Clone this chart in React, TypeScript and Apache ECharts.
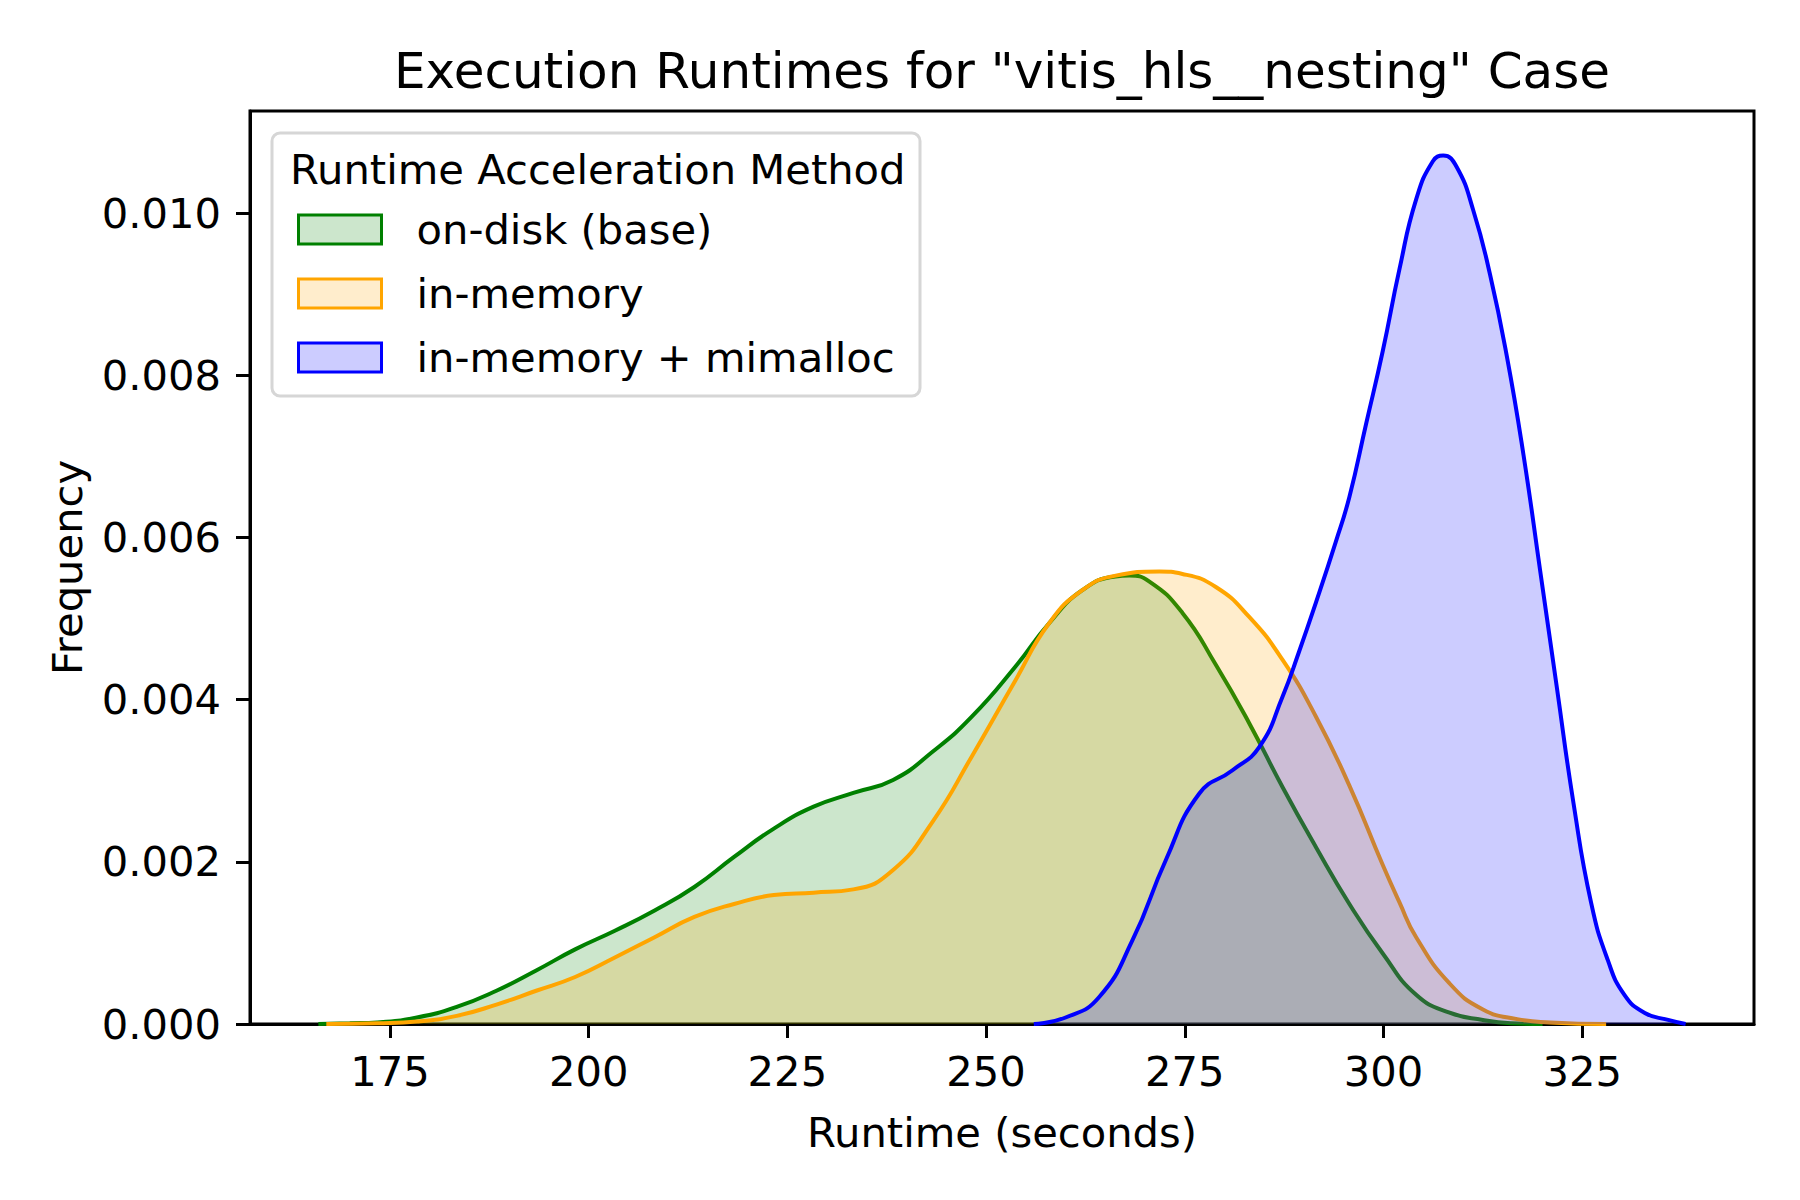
import React, { useEffect, useRef } from "react";
import * as echarts from "echarts";

const titleText = 'Execution Runtimes for "vitis_hls__nesting" Case';
const legendTitle = "Runtime Acceleration Method";
const xAxisName = "Runtime (seconds)";
const yAxisName = "Frequency";

const xTicks = [175, 200, 225, 250, 275, 300, 325];
const yTicks = [0, 0.002, 0.004, 0.006, 0.008, 0.01];

const seriesNames = ["on-disk (base)", "in-memory", "in-memory + mimalloc"];
const lineColors = ["#008000", "#ffa500", "#0000ff"];
const fillColors = ["#cce6cc", "#ffedcc", "#ccccff"];

const onDiskX = [166, 170, 173.4, 178.4, 183.4, 188.4, 193.4, 198.3, 203.3, 208.3, 213.3, 218.3, 223.3, 228.3, 233.3, 238.3, 243.3, 248.2, 253.7, 257.9, 262.1, 266.3, 268, 270.5, 274.7, 278.9, 283.1, 287.3, 291.5, 295.7, 299.9, 304.1, 308.3, 312.5, 316, 320];
const onDiskY = [0, 0.00001, 0.00002, 0.00008, 0.00021, 0.00041, 0.00066, 0.00092, 0.00115, 0.0014, 0.00169, 0.00206, 0.00241, 0.00268, 0.00285, 0.00301, 0.00336, 0.00379, 0.00441, 0.00494, 0.00535, 0.00552, 0.00553, 0.00546, 0.00507, 0.00443, 0.00371, 0.00292, 0.00218, 0.00148, 0.00087, 0.00036, 0.00014, 0.00005, 0.00001, 0];

const inMemX = [167, 173.4, 178.4, 183.4, 188.4, 193.4, 198.3, 203.3, 208.3, 213.3, 218.3, 223.3, 228.3, 233.3, 238.3, 243.3, 248.2, 253.7, 257.9, 262.1, 266.3, 271.8, 274.7, 278.9, 283.1, 287.3, 291.5, 295.7, 299.9, 302, 304.1, 308.3, 312.5, 316.8, 321, 328];
const inMemY = [0, 0.00001, 0.00003, 0.0001, 0.00024, 0.00041, 0.00058, 0.00082, 0.00107, 0.00132, 0.00148, 0.00159, 0.00162, 0.00166, 0.0019, 0.0025, 0.0033, 0.00424, 0.00494, 0.00535, 0.00553, 0.00558, 0.00555, 0.00539, 0.00502, 0.00449, 0.00379, 0.00294, 0.00196, 0.0015, 0.00107, 0.0005, 0.00018, 0.00006, 0.00002, 0];

const mimallocX = [256, 260, 264.2, 268.4, 272.6, 276.8, 281, 284.4, 287.3, 289.4, 291.5, 294, 295.7, 297.8, 299.9, 302, 304.1, 306.2, 307.5, 309.2, 311.3, 313.4, 315.5, 317.6, 319.7, 321.8, 323.9, 326.1, 328.2, 330.3, 332.8, 335.8, 338];
const mimallocY = [0, 0.00008, 0.00033, 0.00103, 0.00202, 0.00284, 0.00313, 0.00342, 0.00404, 0.0046, 0.0052, 0.00595, 0.0065, 0.0074, 0.0083, 0.00931, 0.01017, 0.01064, 0.01071, 0.01057, 0.01003, 0.00924, 0.00824, 0.00702, 0.00559, 0.00415, 0.00272, 0.0015, 0.00079, 0.00036, 0.00014, 0.00005, 0];

const FONT = '"DejaVu Sans", "Liberation Sans", sans-serif';

export default function App() {
  const ref = useRef<HTMLDivElement>(null);
  useEffect(() => {
    const chart = echarts.init(ref.current as HTMLDivElement, null, { renderer: "svg" });
    const xsList = [onDiskX, inMemX, mimallocX];
    const ysList = [onDiskY, inMemY, mimallocY];
    const series = seriesNames.map((name, i) => ({
      name,
      type: "line",
      data: xsList[i].map((x, j) => [x, ysList[i][j]]),
      smooth: 0.5,
      symbol: "none",
      showSymbol: false,
      z: 2 + i,
      itemStyle: { color: lineColors[i] },
      lineStyle: { color: lineColors[i], width: 4 },
      areaStyle: { color: lineColors[i], opacity: 0.2 },
    }));
    chart.setOption({
      animation: false,
      backgroundColor: "#ffffff",
      textStyle: { fontFamily: FONT },
      grid: {
        left: 250,
        right: 46,
        top: 111,
        bottom: 176,
        show: true,
        borderColor: "#000",
        borderWidth: 3,
        backgroundColor: "transparent",
      },
      xAxis: {
        type: "value",
        min: 157.4,
        max: 346.6,
        name: xAxisName,
        nameLocation: "middle",
        nameGap: 87,
        nameTextStyle: { fontSize: 41.67, color: "#000", fontFamily: FONT },
        axisLine: { show: true, lineStyle: { color: "#000", width: 3 } },
        axisTick: { show: true, length: 14, customValues: xTicks, lineStyle: { color: "#000", width: 3 } },
        axisLabel: {
          customValues: xTicks,
          fontSize: 41.67,
          lineHeight: 42,
          color: "#000",
          fontFamily: FONT,
          margin: 26,
        },
        splitLine: { show: false },
      },
      yAxis: {
        type: "value",
        min: 0,
        max: 0.01126,
        name: yAxisName,
        nameLocation: "middle",
        nameGap: 162,
        nameTextStyle: { fontSize: 41.67, color: "#000", fontFamily: FONT },
        axisLine: { show: true, lineStyle: { color: "#000", width: 3 } },
        axisTick: { show: true, length: 14, customValues: yTicks, lineStyle: { color: "#000", width: 3 } },
        axisLabel: {
          customValues: yTicks,
          fontSize: 41.67,
          color: "#000",
          fontFamily: FONT,
          margin: 29,
          formatter: (v: number) => v.toFixed(3),
        },
        splitLine: { show: false },
      },
      legend: {
        orient: "vertical",
        left: 297,
        top: 208.6,
        padding: 0,
        itemWidth: 83,
        itemHeight: 29,
        itemGap: 22,
        selectedMode: false,
        z: 10,
        textStyle: { fontSize: 41.67, lineHeight: 42, color: "#000", fontFamily: FONT, padding: [0, 0, 0, 30] },
        data: seriesNames.map((n, i) => ({
          name: n,
          icon: "rect",
          itemStyle: { color: fillColors[i], borderColor: lineColors[i], borderWidth: 3 },
        })),
      },
      graphic: [
        {
          type: "text",
          x: 1002,
          y: 71,
          z: 10,
          style: {
            text: titleText,
            fontSize: 50,
            fontFamily: FONT,
            fill: "#000",
            align: "center",
            verticalAlign: "middle",
          },
        },
        {
          type: "rect",
          z: 5,
          shape: { x: 272, y: 133, width: 648, height: 263, r: 8 },
          style: { fill: "rgba(255,255,255,0.8)", stroke: "#d6d6d6", lineWidth: 3 },
        },
        {
          type: "text",
          x: 290,
          y: 169,
          z: 10,
          style: {
            text: legendTitle,
            fontSize: 41.67,
            fontFamily: FONT,
            fill: "#000",
            align: "left",
            verticalAlign: "middle",
          },
        },
      ],
      series,
    });
    return () => chart.dispose();
  }, []);
  return (
    <div
      ref={ref}
      style={{ position: "absolute", left: 0, top: 0, width: 1800, height: 1200, background: "#fff" }}
    />
  );
}
